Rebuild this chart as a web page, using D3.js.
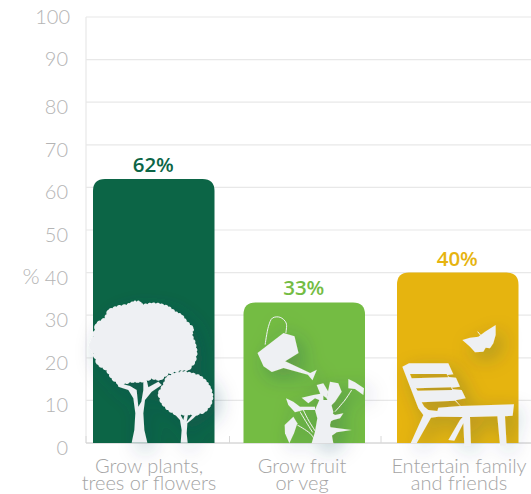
<!DOCTYPE html>
<html><head><meta charset="utf-8">
<script src="https://cdn.jsdelivr.net/npm/d3@7"></script>
<style>html,body{margin:0;padding:0;background:#fff}svg{display:block}text{font-family:Lato,"Open Sans",sans-serif}</style>
</head><body><svg id="c" width="531" height="494"></svg>
<script>
const categories=["Grow plants,|trees or flowers","Grow fruit|or veg","Entertain family|and friends"];
const values=[62,33,40];
const valueLabels=["62%","33%","40%"];
const barColors=["#0c6546","#74bc43","#e6b40f"];
const ticks=[0,10,20,30,40,50,60,70,80,90,100];
const tickLabelNudge=[5,5,5,5,5,5,5,5,5,-1,0];

// Decorative silhouettes, traced per bar: [kind, points, holes]. "s"=scalloped, "p"=polygon, "l"=thin line
const icons=[
 {bar:0,origin:[39,459],shapes:[
  ["s",[[160,35],[180,35],[190,45],[215,40],[240,42],[265,50],[285,65],[305,75],[320,95],[340,115],[335,135],[345,160],[350,185],[345,215],[325,240],[300,240],[265,250],[240,270],[215,265],[180,275],[150,275],[120,285],[95,265],[80,240],[55,225],[40,190],[28,170],[40,140],[50,100],[75,85],[85,60],[110,50],[140,45]]],
  ["p",[[155,458],[163,420],[166,370],[160,325],[145,300],[115,290],[112,278],[150,288],[170,300],[175,350],[184,335],[190,300],[190,270],[200,270],[205,292],[235,275],[245,285],[215,305],[195,330],[190,370],[193,420],[202,458]]],
  ["s",[[310,245],[335,250],[360,258],[380,275],[392,295],[398,320],[392,345],[375,365],[345,375],[320,372],[290,375],[265,360],[245,340],[235,310],[250,285],[260,262],[285,250]]],
  ["p",[[302,458],[305,420],[300,390],[280,368],[300,372],[310,390],[315,368],[325,368],[320,395],[340,372],[360,365],[340,385],[322,400],[320,430],[323,458]]]
 ]},
 {bar:1,origin:[25,460],shapes:[
  ["p",[[67,190],[145,130],[178,140],[190,190],[150,215],[225,250],[245,240],[232,272],[218,255],[145,235],[110,247],[85,230]]],
  ["l",[[90,165],[100,110],[112,85],[135,83],[153,100],[152,130]]]
 ]},
 {bar:1,origin:[-109.5,204],shapes:[
  ["p",[[14,150],[40,125],[52,145],[42,175],[28,205],[15,175]]],
  ["l",[[52,150],[90,175],[105,195]]],
  ["p",[[145,45],[150,20],[175,25],[185,50],[165,80],[150,95],[140,70]]],
  ["p",[[110,30],[130,25],[145,50],[140,70],[120,55]]],
  ["p",[[65,68],[100,60],[130,55],[130,80],[105,70],[85,85]]],
  ["p",[[118,75],[150,75],[160,110],[150,150],[160,205],[95,205],[105,170],[112,130],[105,105]]],
  ["p",[[150,110],[165,120],[190,115],[180,130],[160,135],[150,140]]],
  ["p",[[140,155],[215,165],[170,172],[145,190]]],
  ["p",[[18,70],[40,80],[60,95],[105,95],[105,105],[70,105],[45,112],[25,90]]],
  ["l",[[70,105],[85,135],[110,175]]],
  ["l",[[60,110],[78,140],[98,172]]],
  ["p",[[205,12],[225,22],[252,40],[250,60],[225,42],[205,40]]],
  ["l",[[215,45],[195,75],[165,110]]]
 ]},
 {bar:2,origin:[6,264],shapes:[
  ["p",[[22,35],[42,25],[160,25],[175,58],[157,60],[162,66],[183,68],[195,95],[170,98],[175,103],[200,105],[212,130],[182,136],[197,153],[357,148],[353,182],[330,184],[335,272],[315,272],[307,184],[225,186],[228,272],[208,272],[205,205],[178,257],[160,255],[195,195],[203,186],[130,185],[108,188],[65,265],[47,265],[85,180],[70,160]],
   [[[45,57],[155,57],[160,67],[50,70]],[[63,100],[168,97],[172,105],[68,107]],[[80,142],[180,137],[196,153],[130,158],[127,168],[100,165],[88,155]]]]
 ]},
 {bar:2,origin:[-174,384],shapes:[
  ["p",[[22,75],[45,68],[70,65],[90,50],[122,30],[122,60],[115,85],[105,100],[92,98],[85,110],[60,112],[45,95]]],
  ["l",[[78,62],[68,50]]]
 ]}
];

const svg=d3.select("#c");
const y=d3.scaleLinear().domain([0,100]).range([443,17]);
const xs=d3.scaleOrdinal().domain(categories).range([93,243.5,397]);
const bw=121.5;

const defs=svg.append("defs");
const f=defs.append("filter").attr("id","sh").attr("x","-80%").attr("y","-80%").attr("width","280%").attr("height","280%");
f.append("feDropShadow").attr("dx",18).attr("dy",20).attr("stdDeviation",30).attr("flood-color","#24405a").attr("flood-opacity",.3);

// grid
svg.append("g").selectAll("line").data(ticks.filter(d=>d>0)).join("line")
 .attr("x1",86).attr("x2",531).attr("y1",d=>y(d)).attr("y2",d=>y(d))
 .attr("stroke","#e8e8e8").attr("stroke-width",1.2);
svg.append("line").attr("x1",86).attr("x2",86).attr("y1",y(100)).attr("y2",y(0)).attr("stroke","#e8e8e8").attr("stroke-width",1.2);
svg.append("line").attr("x1",86).attr("x2",531).attr("y1",y(0)).attr("y2",y(0)).attr("stroke","#c4c4c4").attr("stroke-width",1);
svg.append("g").selectAll("line").data([86,229.5,381]).join("line")
 .attr("x1",d=>d).attr("x2",d=>d).attr("y1",y(0)-7).attr("y2",y(0)).attr("stroke","#d8d8d8");

// tick labels
svg.append("g").selectAll("text").data(ticks).join("text")
 .attr("x",d=>d===100?70:68).attr("text-anchor","end")
 .attr("y",(d,i)=>y(d)+tickLabelNudge[i]+7)
 .attr("font-size",20).attr("font-weight",300).attr("fill","#b4b4b4").text(d=>d);
svg.append("text").attr("x",31).attr("y",284).attr("text-anchor","middle").attr("font-size",22).attr("font-weight",300).attr("fill","#b4b4b4").text("%");

// bars
const r=12;
svg.append("g").selectAll("path").data(values).join("path")
 .attr("fill",(d,i)=>barColors[i])
 .attr("d",(d,i)=>{const x0=xs(categories[i]),t=y(d),b=y(0);
   return `M${x0},${b}V${t+r}Q${x0},${t} ${x0+r},${t}H${x0+bw-r}Q${x0+bw},${t} ${x0+bw},${t+r}V${b}Z`;});

// value labels
svg.append("g").selectAll("text").data(values).join("text")
 .attr("x",(d,i)=>xs(categories[i])+bw/2-0.5).attr("y",d=>y(d)-7)
 .attr("text-anchor","middle").attr("font-size",20.5).attr("font-weight",600)
 .attr("style","font-family:'Open Sans',sans-serif")
 .attr("fill",(d,i)=>barColors[i]).text((d,i)=>valueLabels[i]);

// icons
function shapePath(s){
 const [kind,pts,holes]=s;
 if(kind==="s"){
  let d=`M${pts[0]}`;
  pts.forEach((p,i)=>{const q=pts[(i+1)%pts.length];const m=[(p[0]+q[0])/2,(p[1]+q[1])/2];
    const rr=Math.hypot(q[0]-p[0],q[1]-p[1])*.32;
    d+=`A${rr},${rr} 0 0 1 ${m[0]},${m[1]}A${rr},${rr} 0 0 1 ${q[0]},${q[1]}`;});
  return d+"Z";
 }
 if(kind==="l") return d3.line().curve(d3.curveCatmullRom)(pts);
 return [pts,...(holes||[])].map(h=>d3.line()(h)+"Z").join("");
}
icons.forEach(ic=>{
 const G=svg.append("g").attr("filter","url(#sh)")
  .attr("transform",`translate(${xs(categories[ic.bar])},${y(0)}) scale(${1/3}) translate(${-ic.origin[0]},${-ic.origin[1]})`);
 G.selectAll("path").data(ic.shapes).join("path")
  .attr("d",shapePath).attr("fill-rule","evenodd")
  .attr("fill",s=>s[0]==="l"?"none":"#eef0f3")
  .attr("stroke",s=>s[0]==="l"?"#eef0f3":"none")
  .attr("stroke-width",s=>s[0]==="l"?3:0);
});

// category labels
const centers=[149,302,459];
const L=svg.append("g").selectAll("text").data(categories).join("text")
 .attr("text-anchor","middle").attr("font-size",20).attr("font-weight",300).attr("fill","#a4a4a4");
L.each(function(d,i){const t=d3.select(this);d.split("|").forEach((s,j)=>{
  t.append("tspan").attr("x",centers[i]).attr("y",473+17*j).text(s);});});
</script></body></html>
